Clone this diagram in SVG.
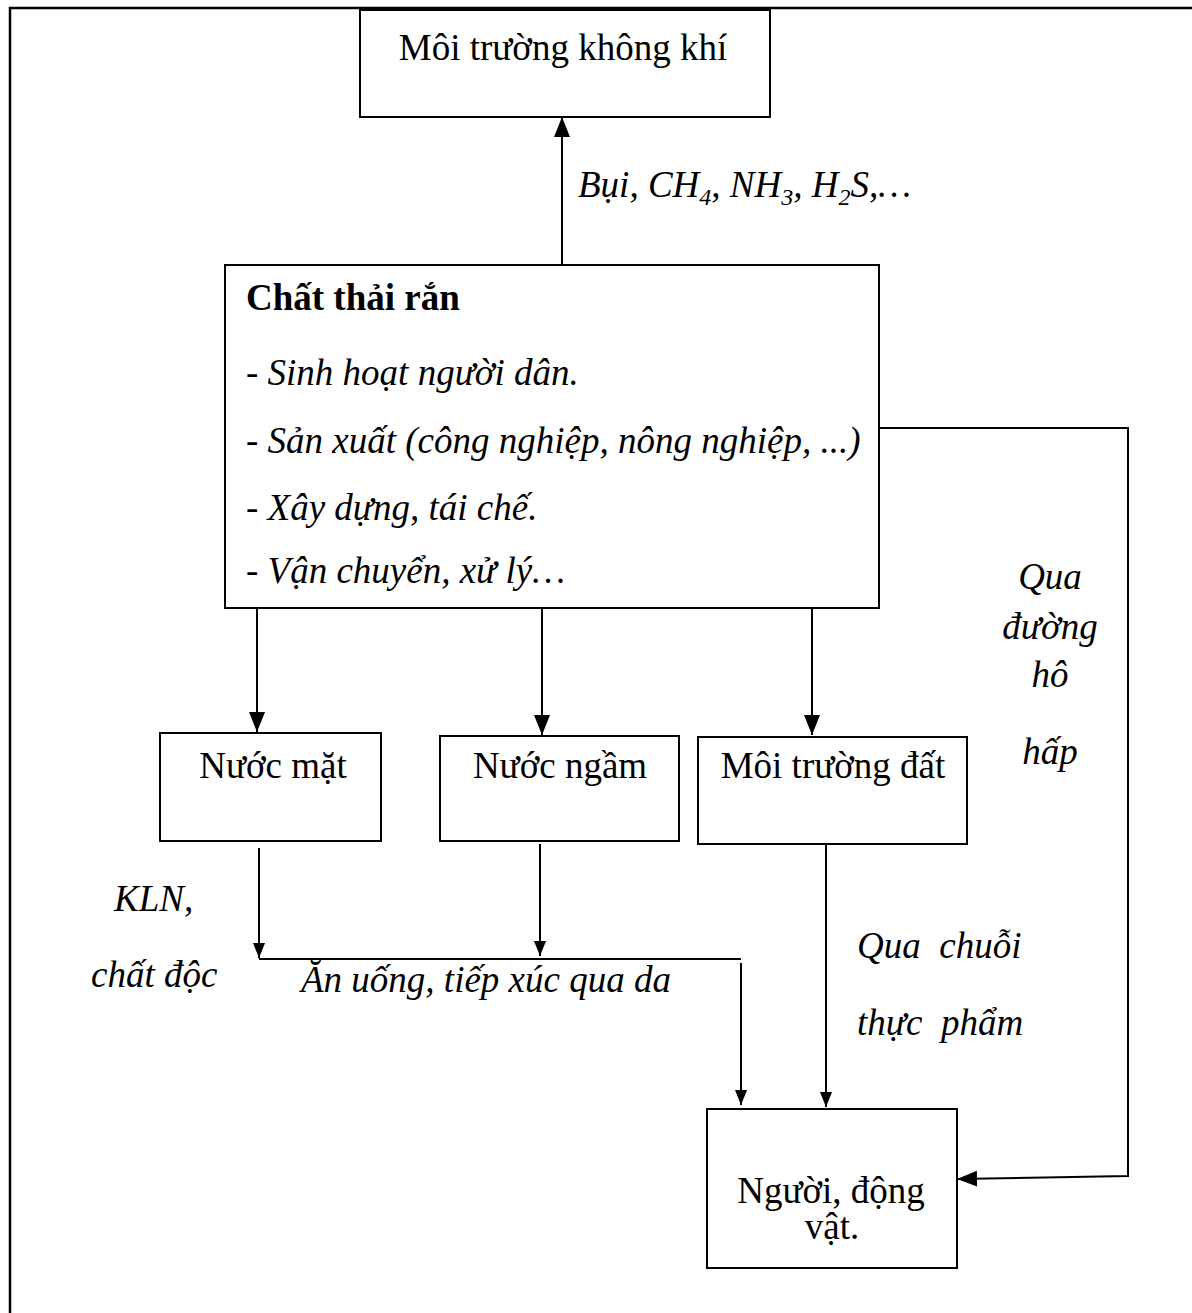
<svg xmlns="http://www.w3.org/2000/svg" width="1192" height="1313" viewBox="0 0 1192 1313">
  <defs>
    <marker id="arrow" markerUnits="userSpaceOnUse" markerWidth="24" markerHeight="18" refX="20" refY="8" orient="auto">
      <path d="M0,0 L20,8 L0,16 Z" fill="#000"/>
    </marker>
    <marker id="arrow-sm" markerUnits="userSpaceOnUse" markerWidth="18" markerHeight="14" refX="15" refY="6" orient="auto">
      <path d="M0,0 L15,6 L0,12 Z" fill="#000"/>
    </marker>
    <style>
      .box { fill: #fff; stroke: #000; stroke-width: 2; }
      .frame { fill: none; stroke: #000; stroke-width: 2.5; }
      .link { fill: none; stroke: #000; stroke-width: 2; }
      .t { font-family: "Liberation Serif", "Times New Roman", serif; font-size: 37px; fill: #000; }
      .it { font-style: italic; }
      .b { font-weight: bold; }
      .mid { text-anchor: middle; }
    </style>
  </defs>

  <rect width="1192" height="1313" fill="#fff"/>

  <!-- page frame: top and left edges only -->
  <path class="frame" d="M10,1313 L10,8 L1192,8"/>

  <!-- connectors -->
  <g id="connectors">
    <line class="link" x1="562" y1="265" x2="562" y2="117" marker-end="url(#arrow)"/>
    <line class="link" x1="257" y1="608" x2="257" y2="732" marker-end="url(#arrow)"/>
    <line class="link" x1="542" y1="608" x2="542" y2="735" marker-end="url(#arrow)"/>
    <line class="link" x1="812" y1="608" x2="812" y2="735" marker-end="url(#arrow)"/>
    <polyline class="link" points="879,428 1128,428 1128,1176 957,1179" marker-end="url(#arrow)"/>
    <line class="link" x1="259" y1="848" x2="259" y2="958" marker-end="url(#arrow-sm)"/>
    <line class="link" x1="540" y1="844" x2="540" y2="956" marker-end="url(#arrow-sm)"/>
    <line class="link" x1="259" y1="959" x2="741" y2="959"/>
    <line class="link" x1="741" y1="963" x2="741" y2="1105" marker-end="url(#arrow-sm)"/>
    <line class="link" x1="826" y1="844" x2="826" y2="1107" marker-end="url(#arrow-sm)"/>
  </g>

  <!-- edge labels -->
  <g id="labels">
    <text class="t it" x="578" y="197">Bụi, CH<tspan font-size="24" dy="8">4</tspan><tspan dy="-8">, NH</tspan><tspan font-size="24" dy="8">3</tspan><tspan dy="-8">, H</tspan><tspan font-size="24" dy="8">2</tspan><tspan dy="-8">S,…</tspan></text>
    <text class="t it mid" x="1050" y="589">Qua</text>
    <text class="t it mid" x="1050" y="639">đường</text>
    <text class="t it mid" x="1050" y="687">hô</text>
    <text class="t it mid" x="1050" y="764">hấp</text>
    <text class="t it" x="114" y="911">KLN,</text>
    <text class="t it" x="91" y="987">chất độc</text>
    <text class="t it" x="301" y="992">Ăn uống, tiếp xúc qua da</text>
    <text class="t it" x="857" y="958" xml:space="preserve">Qua  chuỗi</text>
    <text class="t it" x="857" y="1035" xml:space="preserve">thực  phẩm</text>
  </g>

  <!-- nodes -->
  <g id="node-air">
    <rect class="box" x="360" y="10" width="410" height="107"/>
    <text class="t mid" x="563" y="60">Môi trường không khí</text>
  </g>

  <g id="node-solid-waste">
    <rect class="box" x="225" y="265" width="654" height="343"/>
    <text class="t b" x="246" y="310">Chất thải rắn</text>
    <text class="t it" x="246" y="385" font-size="35">- Sinh hoạt người dân.</text>
    <text class="t it" x="246" y="453" font-size="35">- Sản xuất (công nghiệp, nông nghiệp, ...)</text>
    <text class="t it" x="246" y="520" font-size="30">- Xây dựng, tái chế.</text>
    <text class="t it" x="246" y="583" font-size="32">- Vận chuyển, xử lý…</text>
  </g>

  <g id="node-surface-water">
    <rect class="box" x="160" y="733" width="221" height="108"/>
    <text class="t mid" x="273" y="778">Nước mặt</text>
  </g>

  <g id="node-groundwater">
    <rect class="box" x="440" y="736" width="239" height="105"/>
    <text class="t mid" x="560" y="778">Nước ngầm</text>
  </g>

  <g id="node-soil">
    <rect class="box" x="698" y="737" width="269" height="107"/>
    <text class="t mid" x="833" y="778">Môi trường đất</text>
  </g>

  <g id="node-people">
    <rect class="box" x="707" y="1109" width="250" height="159"/>
    <text class="t mid" x="831" y="1203">Người, động</text>
    <text class="t mid" x="832" y="1239">vật.</text>
  </g>
</svg>
